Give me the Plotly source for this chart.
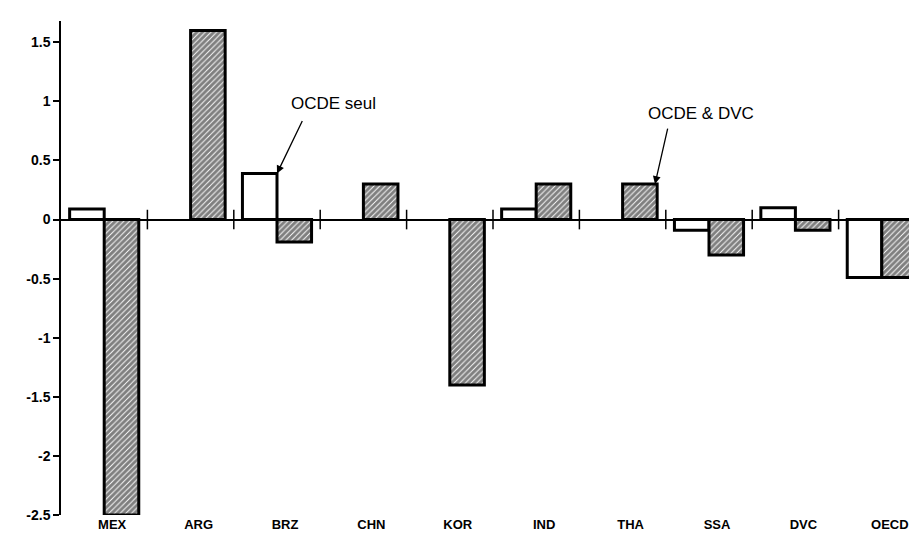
import plotly.graph_objects as go

categories = ["MEX", "ARG", "BRZ", "CHN", "KOR", "IND", "THA", "SSA", "DVC", "OECD"]
ocde_seul = [0.09, None, 0.39, None, None, 0.09, None, -0.09, 0.10, -0.49]
ocde_dvc = [-2.5, 1.6, -0.19, 0.30, -1.4, 0.30, 0.30, -0.30, -0.09, -0.49]
y_ticks = [1.5, 1, 0.5, 0, -0.5, -1, -1.5, -2, -2.5]
y_tick_text = ["1.5", "1", "0.5", "0", "-0.5", "-1", "-1.5", "-2", "-2.5"]

xs = list(range(len(categories)))
boundaries = [i + 0.5 for i in range(len(categories) - 1)]

font_family = "Liberation Sans Narrow, Liberation Sans, Arial, sans-serif"

fig = go.Figure()
fig.add_trace(go.Bar(
    x=xs, y=ocde_seul, name="OCDE seul",
    marker=dict(color="white", line=dict(color="black", width=3)),
))
fig.add_trace(go.Bar(
    x=xs, y=ocde_dvc, name="OCDE & DVC",
    marker=dict(color="white", line=dict(color="black", width=3),
                pattern=dict(shape="/", fgcolor="black", bgcolor="white",
                             size=4, solidity=0.78)),
))
# category separator ticks on the zero line
fig.add_trace(go.Scatter(
    x=boundaries, y=[0] * len(boundaries), mode="markers",
    marker=dict(symbol="line-ns-open", size=14, color="black",
                line=dict(color="black", width=1.5)),
    hoverinfo="skip", showlegend=False,
))

fig.update_layout(
    width=917, height=533,
    margin=dict(l=53, r=0, t=13, b=26),
    paper_bgcolor="white", plot_bgcolor="white",
    barmode="group", bargap=0.2, bargroupgap=0,
    showlegend=False,
    font=dict(family=font_family, color="black"),
)
fig.update_xaxes(
    range=[-0.5, 9.5], tickvals=xs, ticktext=categories,
    showgrid=False, zeroline=False, showline=False, ticks="",
    tickfont=dict(size=13, weight="bold", family=font_family),
    ticklabelshift=8, ticklabelstandoff=0,
)
fig.update_yaxes(
    range=[-2.5, 1.68], tickvals=y_ticks, ticktext=y_tick_text,
    showgrid=False, zeroline=True, zerolinecolor="black", zerolinewidth=1.5,
    showline=True, linecolor="black", linewidth=1.5,
    ticks="outside", ticklen=6, tickcolor="black", tickwidth=1.5,
    tickfont=dict(size=14, weight="bold", family=font_family),
)

# arrows
fig.add_annotation(x=2.0, y=0.39, ax=26, ay=-54, text="", showarrow=True,
                   arrowhead=2, arrowsize=1.2, arrowwidth=1.3, arrowcolor="black")
fig.add_annotation(x=6.375, y=0.30, ax=13, ay=-57, text="", showarrow=True,
                   arrowhead=2, arrowsize=1.2, arrowwidth=1.3, arrowcolor="black")
# labels
fig.add_annotation(x=2.65, y=0.985, text="OCDE seul", showarrow=False,
                   font=dict(size=17, family="Liberation Sans, Arial, sans-serif"))
fig.add_annotation(x=6.91, y=0.90, text="OCDE &amp; DVC", showarrow=False,
                   font=dict(size=17, family="Liberation Sans, Arial, sans-serif"))

fig.write_html("out.html")
